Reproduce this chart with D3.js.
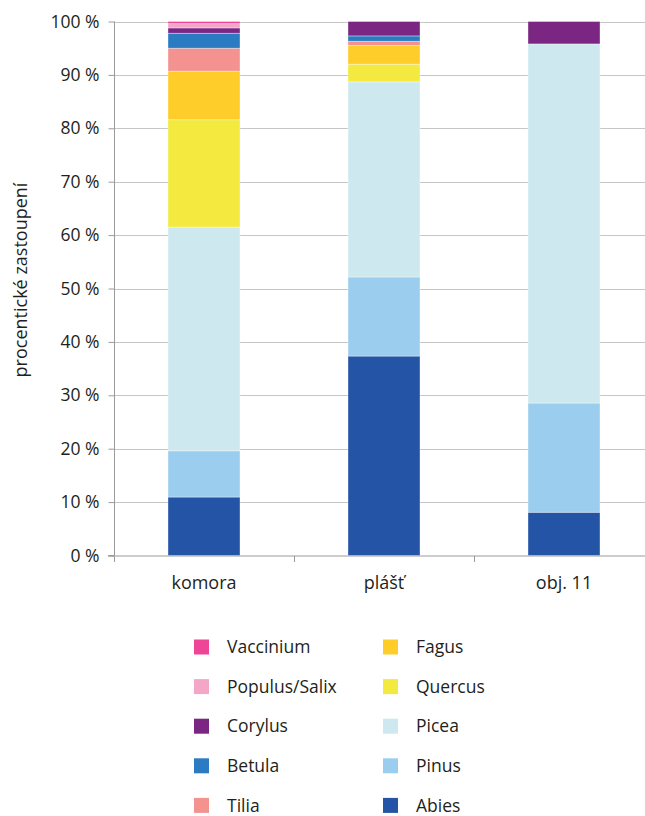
<!DOCTYPE html>
<html>
<head>
<meta charset="utf-8">
<script src="https://cdn.jsdelivr.net/npm/d3@7"></script>
<style>
  html, body { margin: 0; padding: 0; background: #fff; }
  svg { display: block; font-family: "Open Sans", "Noto Sans", sans-serif; font-weight: 500; }
</style>
</head>
<body>
<svg id="chart" width="645" height="816"></svg>
<script>
// Sites (x categories)
const categories = ["komora", "plášť", "obj. 11"];

// Taxa, stacked bottom to top
const species = ["Abies", "Pinus", "Picea", "Quercus", "Fagus", "Tilia", "Betula", "Corylus", "Populus/Salix", "Vaccinium"];

// Percent share per taxon, one value per site
const abies     = [10.95, 37.35, 8.1];
const pinus     = [8.65, 14.8, 20.45];
const picea     = [41.9, 36.55, 67.25];
const quercus   = [20.1, 3.3, 0];
const fagus     = [9.1, 3.5, 0];
const tilia     = [4.3, 0.8, 0];
const betula    = [2.8, 1.0, 0];
const corylus   = [1.0, 2.7, 4.2];
const populus   = [0.8, 0, 0];
const vaccinium = [0.4, 0, 0];

const colors = ["#2454a6", "#9bcdee", "#cde9ef", "#f3e93f", "#ffcd29", "#f4928f", "#2a7bc1", "#7b2682", "#f4a6c9", "#ee4596"];

const yTicks = [0, 10, 20, 30, 40, 50, 60, 70, 80, 90, 100];

// Legend layout: two columns
const legendCol1 = ["Vaccinium", "Populus/Salix", "Corylus", "Betula", "Tilia"];
const legendCol2 = ["Fagus", "Quercus", "Picea", "Pinus", "Abies"];

const seriesValues = [abies, pinus, picea, quercus, fagus, tilia, betula, corylus, populus, vaccinium];
const rows = categories.map((c, i) => {
  const r = { site: c };
  species.forEach((s, k) => { r[s] = seriesValues[k][i]; });
  return r;
});

const svg = d3.select("#chart");
const x0 = 114, x1 = 654, yTop = 21.5, yBot = 555.5;

const x = d3.scaleBand().domain(categories).range([x0, x1]).paddingInner(0.6).paddingOuter(0.3);
const y = d3.scaleLinear().domain([0, 100]).range([yBot, yTop]);
const color = d3.scaleOrdinal().domain(species).range(colors);

// Gridlines
svg.append("g").selectAll("line").data(yTicks.filter(t => t > 0)).join("line")
  .attr("x1", x0).attr("x2", 645)
  .attr("y1", d => Math.round(y(d)) + 0.5).attr("y2", d => Math.round(y(d)) + 0.5)
  .attr("stroke", "#c6c6c6").attr("stroke-width", 1);

// Stacked bars
const stack = d3.stack().keys(species)(rows);
svg.append("g").selectAll("g").data(stack).join("g")
  .attr("fill", d => color(d.key))
  .selectAll("rect").data(d => d.filter(p => p[1] - p[0] > 0)).join("rect")
  .attr("x", d => x(d.data.site))
  .attr("width", x.bandwidth())
  .attr("y", d => y(d[1]))
  .attr("height", d => y(d[0]) - y(d[1]))
  .attr("stroke", "rgba(255,255,255,0.45)")
  .attr("stroke-width", 0.8);

// Y axis
const yAxis = d3.axisLeft(y).tickValues(yTicks).tickFormat(d => d + " %").tickSize(6).tickPadding(9);
const gy = svg.append("g").attr("transform", `translate(${x0 + 0.5},0)`).call(yAxis);
gy.select(".domain").attr("stroke", "#9a9a9a").attr("d", `M-6,${yBot}H0V${yTop}`);
gy.selectAll(".tick line").attr("stroke", "#9a9a9a");
gy.selectAll(".tick text").attr("font-size", 17.5).attr("fill", "#231f20")
  .attr("font-family", "'Open Sans', sans-serif").attr("font-weight", 500);

// X axis with tick marks at band boundaries
const gx = svg.append("g").attr("transform", `translate(0,${yBot + 0.5})`);
gx.append("line").attr("x1", x0 - 6).attr("x2", 645).attr("y1", 0).attr("y2", 0).attr("stroke", "#9a9a9a");
const bounds = [x0, x0 + (x1 - x0) / 3, x0 + 2 * (x1 - x0) / 3];
gx.selectAll("line.tk").data(bounds).join("line").attr("class", "tk")
  .attr("x1", d => d + 0.5).attr("x2", d => d + 0.5).attr("y1", 0).attr("y2", 6)
  .attr("stroke", "#9a9a9a");
gx.selectAll("text").data(categories).join("text")
  .attr("x", d => x(d) + x.bandwidth() / 2).attr("y", 33)
  .attr("text-anchor", "middle").attr("font-size", 18).attr("fill", "#231f20")
  .text(d => d);

// Y axis title
svg.append("text")
  .attr("transform", `translate(27,280) rotate(-90)`)
  .attr("text-anchor", "middle").attr("font-size", 18).attr("fill", "#231f20")
  .text("procentické zastoupení");

// Legend
function legendColumn(items, sx, tx) {
  const g = svg.append("g");
  const it = g.selectAll("g").data(items).join("g")
    .attr("transform", (d, i) => `translate(0,${647 + i * 39.6})`);
  it.append("rect").attr("x", sx).attr("y", -7.5).attr("width", 15).attr("height", 15)
    .attr("fill", d => color(d));
  it.append("text").attr("x", tx).attr("y", 0).attr("dy", "0.35em")
    .attr("font-size", 17.5).attr("fill", "#231f20").text(d => d);
}
legendColumn(legendCol1, 194, 227);
legendColumn(legendCol2, 383, 416);
</script>
</body>
</html>
